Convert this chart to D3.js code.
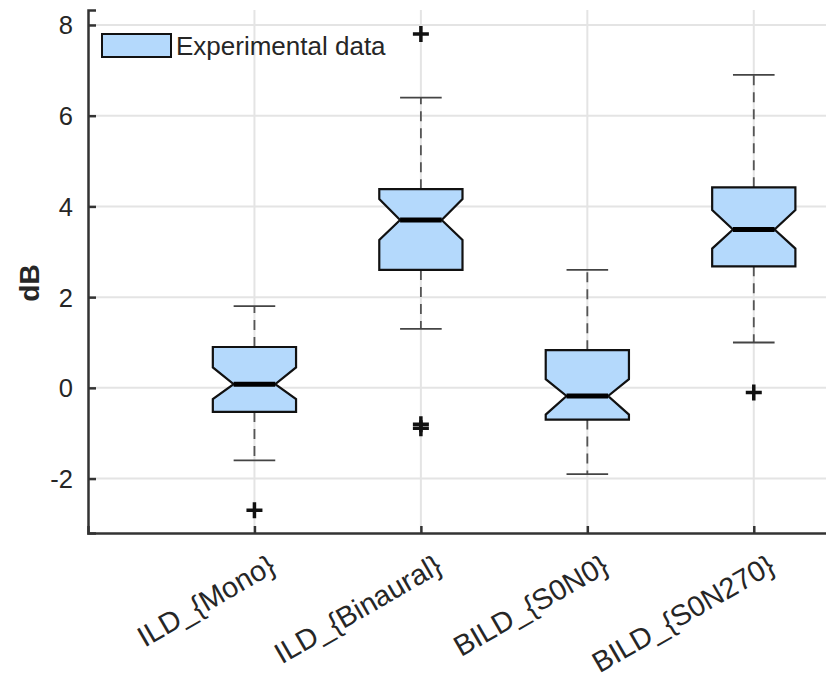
<!DOCTYPE html>
<html>
<head>
  <meta charset="utf-8">
  <title>Boxplot dB</title>
  <script src="https://d3js.org/d3.v7.min.js"></script>
  <style>
    body { margin: 0; background: #fff; }
    text { font-family: "Liberation Sans", Arial, sans-serif; fill: #262626; }
  </style>
</head>
<body>
<svg class="chart" width="826" height="680"></svg>
<script>
// data
var categories = ["ILD_{Mono}", "ILD_{Binaural}", "BILD_{S0N0}", "BILD_{S0N270}"];
var q1       = [-0.53, 2.60, -0.70, 2.68];
var medians  = [ 0.08, 3.70, -0.18, 3.49];
var q3       = [ 0.90, 4.38,  0.83, 4.42];
var notchLo  = [-0.25, 3.26, -0.59, 3.07];
var notchHi  = [ 0.45, 4.16,  0.19, 3.92];
var whiskLo  = [-1.6, 1.3, -1.9, 1.0];
var whiskHi  = [ 1.8, 6.4,  2.6, 6.9];
var outliers = [[-2.7], [7.8, -0.80, -0.89], [], [-0.1]];
var yTicks   = [-2, 0, 2, 4, 6, 8];

var svg = d3.select(".chart");

var x = d3.scaleLinear().domain([0, 4.5]).range([88, 837]);
var y = d3.scaleLinear().domain([-3.2, 8.33]).range([533, 10]);

var boxW = 0.5, capW = 0.25;

// grid
var grid = svg.append("g").attr("stroke", "#e4e4e4").attr("stroke-width", 2);
yTicks.forEach(function(t) {
  grid.append("line").attr("x1", x(0)).attr("x2", 826).attr("y1", y(t)).attr("y2", y(t));
});
categories.forEach(function(c, i) {
  grid.append("line").attr("x1", x(i + 1)).attr("x2", x(i + 1)).attr("y1", y(-3.2)).attr("y2", y(8.33));
});

// axes
var yAxis = svg.append("g")
    .attr("transform", "translate(" + x(0) + ",0)")
    .call(d3.axisLeft(y).tickValues(yTicks).tickSize(-8).tickPadding(15).tickFormat(function(d) { return String(d); }));
yAxis.select(".domain").attr("stroke", "#333").attr("stroke-width", 2.5);
yAxis.selectAll(".tick line").attr("stroke", "#333").attr("stroke-width", 2.5);
yAxis.selectAll("text").style("font-size", "25.5px").attr("fill", "#262626").attr("dy", "0.35em");

var xAxis = svg.append("g")
    .attr("transform", "translate(0," + y(-3.2) + ")")
    .call(d3.axisBottom(x).tickValues([1, 2, 3, 4]).tickSize(-7).tickFormat(function(d) { return categories[d - 1]; }));
xAxis.select(".domain").attr("stroke", "#333").attr("stroke-width", 2.5);
xAxis.selectAll(".tick line").attr("stroke", "#333").attr("stroke-width", 2.5);
xAxis.selectAll("text")
    .style("font-size", "29px")
    .style("text-anchor", "end")
    .attr("fill", "#262626")
    .attr("x", null)
    .attr("y", null)
    .attr("dy", "0.72em")
    .attr("transform", "translate(12,20) rotate(-30)");

// y label
svg.append("text")
    .attr("transform", "translate(39,283) rotate(-90)")
    .attr("text-anchor", "middle")
    .style("font-size", "28px")
    .style("font-weight", "bold")
    .attr("fill", "#262626")
    .text("dB");

// boxes
categories.forEach(function(c, i) {
  var cx = i + 1;
  var L = x(cx - boxW / 2), R = x(cx + boxW / 2);
  var nL = x(cx - boxW / 4), nR = x(cx + boxW / 4);
  var g = svg.append("g");

  // whiskers
  g.append("line").attr("x1", x(cx)).attr("x2", x(cx)).attr("y1", y(q3[i])).attr("y2", y(whiskHi[i]))
    .attr("stroke", "#555").attr("stroke-width", 1.8).attr("stroke-dasharray", "10,7");
  g.append("line").attr("x1", x(cx)).attr("x2", x(cx)).attr("y1", y(q1[i])).attr("y2", y(whiskLo[i]))
    .attr("stroke", "#555").attr("stroke-width", 1.8).attr("stroke-dasharray", "10,7");
  [whiskHi[i], whiskLo[i]].forEach(function(w) {
    g.append("line").attr("x1", x(cx - capW / 2)).attr("x2", x(cx + capW / 2)).attr("y1", y(w)).attr("y2", y(w))
      .attr("stroke", "#444").attr("stroke-width", 1.8);
  });

  var pts = [
    [L, y(q3[i])], [R, y(q3[i])], [R, y(notchHi[i])], [nR, y(medians[i])], [R, y(notchLo[i])],
    [R, y(q1[i])], [L, y(q1[i])], [L, y(notchLo[i])], [nL, y(medians[i])], [L, y(notchHi[i])]
  ];
  g.append("polygon")
    .attr("points", pts.map(function(p) { return p.join(","); }).join(" "))
    .attr("fill", "#b4d9fc").attr("stroke", "#111").attr("stroke-width", 2.2)
    .attr("stroke-linejoin", "miter");
  g.append("line").attr("x1", nL).attr("x2", nR).attr("y1", y(medians[i])).attr("y2", y(medians[i]))
    .attr("stroke", "#000").attr("stroke-width", 5);

  outliers[i].forEach(function(o) {
    var px = x(cx), py = y(o), s = 8;
    g.append("path")
      .attr("d", "M" + (px - s) + "," + py + "H" + (px + s) + "M" + px + "," + (py - s) + "V" + (py + s))
      .attr("stroke", "#111").attr("stroke-width", 3.5).attr("fill", "none");
  });
});

// legend
var leg = svg.append("g");
leg.append("rect").attr("x", 102).attr("y", 34).attr("width", 69).attr("height", 23)
  .attr("fill", "#b4d9fc").attr("stroke", "#111").attr("stroke-width", 2);
leg.append("text").attr("x", 176).attr("y", 55).style("font-size", "26px").attr("fill", "#262626")
  .text("Experimental data");
</script>
</body>
</html>
